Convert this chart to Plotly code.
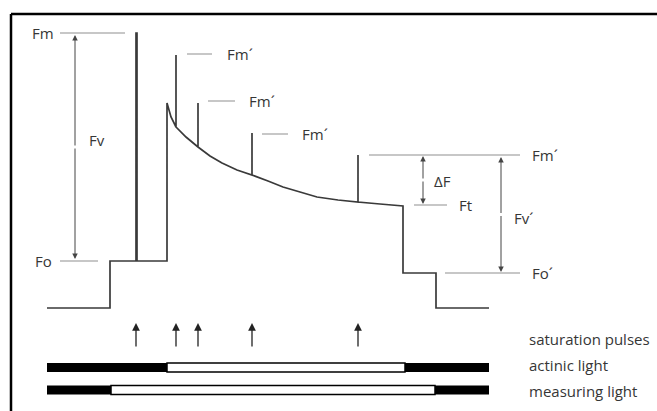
"""Chlorophyll fluorescence quenching diagram (saturation pulse method)."""
import plotly.graph_objects as go

# ── Data (pixel-space coordinates: x right, y down) ──

# fluorescence trace before actinic light
pre_x = [47, 110, 110, 136, 136, 137, 137, 167, 167]
pre_y = [308, 308, 261, 261, 33, 33, 261, 261, 103]

# decay curve under actinic light
curve_x = [167, 171, 176, 186, 198, 210, 222, 237, 252, 268, 283, 300, 317, 338, 358, 380, 403]
curve_y = [103, 117, 127, 137, 147, 156, 163, 170, 175, 181, 187, 192, 197, 200, 202, 204, 206]

# trace after actinic light off
post_x = [403, 403, 436, 436, 489]
post_y = [206, 273, 273, 308, 308]

# saturation pulses
pulse_x = [136, 176, 198, 252, 358]
pulse_top = [33, 55, 103, 133, 155]

# grey reference levels and their labels
ref_labels = ["Fm", "Fm´", "Fm´", "Fm´", "Fm´", "Ft", "Fo", "Fo´"]
ref_y = [33, 54, 101, 134, 155, 205, 261, 273]
ref_x0 = [60, 187, 208, 262, 369, 414, 60, 445]
ref_x1 = [125, 212, 235, 288, 520, 447, 98, 520]
ref_label_x = [56, 225, 247, 300, 530, 457, 54, 530]
ref_label_side = ["right", "left", "left", "left", "left", "left", "right", "left"]

# double-headed arrows: label, x, y_top, y_bottom, label_x, label_y
arrow_labels = ["Fv", "ΔF", "Fv´"]
arrow_x = [75, 423, 501]
arrow_top = [35, 156, 157]
arrow_bottom = [259, 204, 272]
arrow_label_x = [87, 432, 512]
arrow_label_y = [140, 181, 218]

# light bars: segment edges (dark, light, dark)
bar_names = ["actinic light", "measuring light"]
bar_y = [367.5, 390]
bar_edges = [[47, 167, 405, 489], [47, 111, 435, 489]]
legend_x = 527
legend_labels = ["saturation pulses", "actinic light", "measuring light"]
legend_y = [339, 365, 391]

TRACE_COLOR = "#3a3a3a"
REF_COLOR = "#b4b4b4"
TEXT_COLOR = "#363636"
FONT = "Open Sans"
W, H = 657, 411

# ── Build the trace path with the pulse spikes inserted ──
path_x, path_y = list(pre_x), list(pre_y)
for x, y in zip(curve_x, curve_y):
    path_x.append(x)
    path_y.append(y)
    if x in pulse_x[1:]:
        top = pulse_top[pulse_x.index(x)]
        path_x += [x, x]
        path_y += [top, y]
path_x += post_x
path_y += post_y

fig = go.Figure()

fig.add_trace(go.Scatter(x=path_x, y=path_y, mode="lines",
                         line=dict(color=TRACE_COLOR, width=1.7), hoverinfo="skip"))

for x0, x1, y in zip(ref_x0, ref_x1, ref_y):
    fig.add_trace(go.Scatter(x=[x0, x1], y=[y, y], mode="lines",
                             line=dict(color=REF_COLOR, width=1.5), hoverinfo="skip"))

annotations = []
for text, lx, y, side in zip(ref_labels, ref_label_x, ref_y, ref_label_side):
    annotations.append(dict(x=lx, y=y, xref="x", yref="y", text=text, showarrow=False,
                            xanchor=side, yanchor="middle",
                            font=dict(family=FONT, size=15, color=TEXT_COLOR)))

for text, x, y0, y1, lx, ly in zip(arrow_labels, arrow_x, arrow_top, arrow_bottom,
                                    arrow_label_x, arrow_label_y):
    mid = (y0 + y1) / 2
    for end in (y0, y1):
        annotations.append(dict(x=x, y=end, ax=x, ay=mid, xref="x", yref="y",
                                axref="x", ayref="y", text="", showarrow=True,
                                arrowhead=2, arrowsize=1.1, arrowwidth=1,
                                arrowcolor="#444444"))
    annotations.append(dict(x=lx, y=ly, xref="x", yref="y", text=text, showarrow=False,
                            xanchor="left", yanchor="middle",
                            font=dict(family=FONT, size=15, color=TEXT_COLOR)))

# saturation pulse arrows
for x in pulse_x:
    annotations.append(dict(x=x, y=323, ax=x, ay=348, xref="x", yref="y",
                            axref="x", ayref="y", text="", showarrow=True,
                            arrowhead=2, arrowsize=1.2, arrowwidth=1.3,
                            arrowcolor="#222222"))

for text, y in zip(legend_labels, legend_y):
    annotations.append(dict(x=legend_x, y=y, xref="x", yref="y", text=text, showarrow=False,
                            xanchor="left", yanchor="middle",
                            font=dict(family=FONT, size=15, color=TEXT_COLOR)))

shapes = []
for yc, edges in zip(bar_y, bar_edges):
    for i in range(3):
        dark = i != 1
        shapes.append(dict(type="rect", xref="x", yref="y",
                           x0=edges[i], x1=edges[i + 1], y0=yc - 4.5, y1=yc + 4.5,
                           fillcolor="black" if dark else "white",
                           line=dict(color="black", width=1.5 if not dark else 0)))

# frame: top and left edges only
shapes.append(dict(type="line", xref="x", yref="y", x0=11, x1=W, y0=14, y1=14,
                   line=dict(color="black", width=2.5)))
shapes.append(dict(type="line", xref="x", yref="y", x0=11, x1=11, y0=14, y1=H,
                   line=dict(color="black", width=2.5)))

fig.update_layout(
    width=W, height=H,
    margin=dict(l=0, r=0, t=0, b=0),
    paper_bgcolor="white", plot_bgcolor="white",
    showlegend=False,
    annotations=annotations,
    shapes=shapes,
    xaxis=dict(range=[0, W], visible=False, fixedrange=True),
    yaxis=dict(range=[H, 0], visible=False, fixedrange=True),
)

# drop the default 8px body margin so the figure fills the window exactly
fig.write_html("out.html", config={"displayModeBar": False},
               post_script="document.body.style.margin='0';document.body.style.overflow='hidden';")
